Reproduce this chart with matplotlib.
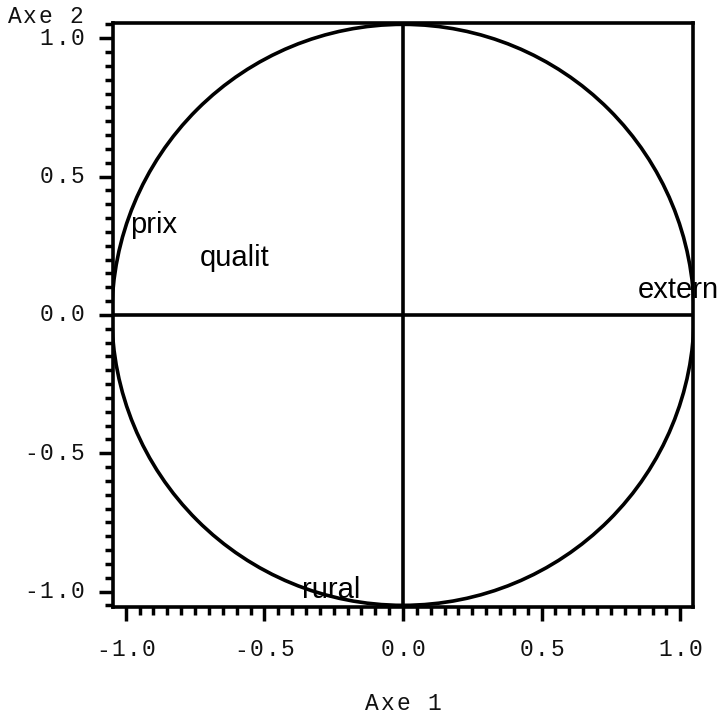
import matplotlib
matplotlib.use('Agg')
import matplotlib.pyplot as plt
from matplotlib.patches import Circle
from matplotlib.ticker import FixedLocator, MultipleLocator
from matplotlib.transforms import offset_copy, blended_transform_factory

# variable labels and their coordinates on the two axes
var_names = ['prix', 'qualit', 'extern', 'rural']
axe1 = [-0.985, -0.732, 0.848, -0.364]
axe2 = [0.296, 0.176, 0.060, -1.024]

major_ticks = [-1.0, -0.5, 0.0, 0.5, 1.0]
tick_labels = ['-1.0', '-0.5', '0.0', '0.5', '1.0']
radius = 1.05
xlim = 1.046
ylim = 1.056

fig = plt.figure(figsize=(7.23, 7.17), dpi=100)
ax = fig.add_axes([113 / 723, 1 - 607 / 717, 580 / 723, 584.3 / 717])
ax.set_xlim(-xlim, xlim)
ax.set_ylim(-ylim, ylim)

lw = 2.6
ax.add_patch(Circle((0, 0), radius, fill=False, lw=lw, color='black'))
ax.axhline(0, color='black', lw=lw)
ax.axvline(0, color='black', lw=lw)

for name, x, y in zip(var_names, axe1, axe2):
    ax.text(x, y, name, ha='left', va='baseline', fontsize=21,
            family='Liberation Sans', color='black')

for sp in ax.spines.values():
    sp.set_linewidth(lw)

for axis in (ax.xaxis, ax.yaxis):
    axis.set_major_locator(FixedLocator(major_ticks))
    axis.set_minor_locator(MultipleLocator(0.05))
ax.tick_params(which='major', direction='out', length=10, width=2.5,
               labelbottom=False, labelleft=False)
ax.tick_params(which='minor', direction='out', length=6, width=2.5)


# monospace text with wide character pitch, one glyph per slot
def spaced(x, y, s, trans, pitch=15.4, ha='center', dx=0, dy=0):
    n = len(s)
    start = -pitch * n / 2 if ha == 'center' else -pitch * n
    for i, ch in enumerate(s):
        t = offset_copy(trans, fig=fig, x=dx + start + pitch * (i + 0.5), y=dy, units='dots')
        ax.text(x, y, ch, transform=t, ha='center', va='center',
                family='Liberation Mono', fontsize=16.5, color='#111111')


xtrans = blended_transform_factory(ax.transData, ax.transAxes)
ytrans = blended_transform_factory(ax.transAxes, ax.transData)
for v, lab in zip(major_ticks, tick_labels):
    spaced(v, 0, lab, xtrans, dy=-43)
    spaced(0, v, lab, ytrans, ha='right', dx=-28)

spaced(0, 1, 'Axe 2', ax.transAxes, ha='right', dx=-29, dy=6)
spaced(0.5, 0, 'Axe 1', ax.transAxes, dy=-96)

fig.savefig('out.png', dpi=100)
